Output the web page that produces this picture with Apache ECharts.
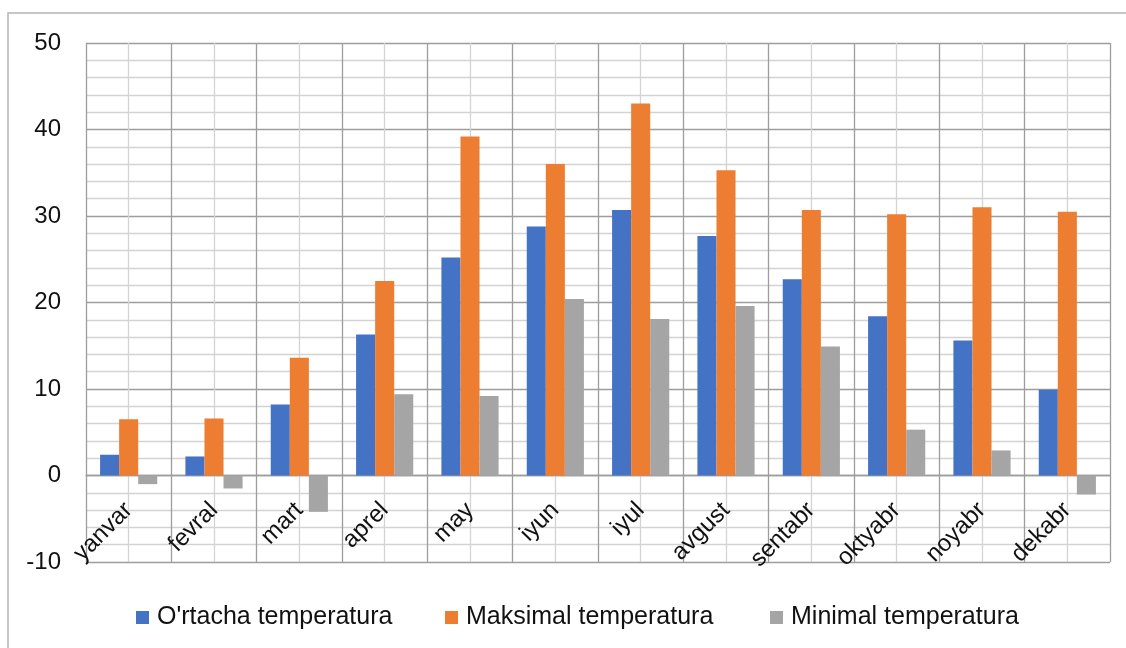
<!DOCTYPE html>
<html>
<head>
<meta charset="utf-8">
<script src="https://cdn.jsdelivr.net/npm/echarts@6/dist/echarts.min.js"></script>
<style>html,body{margin:0;padding:0;background:#fff;}#c{width:1126px;height:648px;}</style>
</head>
<body>
<div id="c"></div>
<script>
const months = ['yanvar','fevral','mart','aprel','may','iyun','iyul','avgust','sentabr','oktyabr','noyabr','dekabr'];
const seriesNames = ["O'rtacha temperatura", 'Maksimal temperatura', 'Minimal temperatura'];
const avgTemp = [2.4, 2.2, 8.2, 16.3, 25.2, 28.8, 30.7, 27.7, 22.7, 18.4, 15.6, 9.9];
const maxTemp = [6.5, 6.6, 13.6, 22.5, 39.2, 36.0, 43.0, 35.3, 30.7, 30.2, 31.0, 30.5];
const minTemp = [-1.0, -1.5, -4.2, 9.4, 9.2, 20.4, 18.1, 19.6, 14.9, 5.3, 2.9, -2.2];
const yMin = -10, yMax = 50, yStep = 10;

const FONT = 'Liberation Sans, Arial, sans-serif';
const chart = echarts.init(document.getElementById('c'), null, {renderer: 'canvas'});
const colors = ['#4472C4', '#ED7D31', '#A5A5A5'];
const major = '#9d9d9d', minor = '#d3d3d3';
const legendLefts = [136, 445, 770];

chart.setOption({
  animation: false,
  color: colors,
  textStyle: {fontFamily: FONT},
  graphic: [{
    type: 'rect', silent: true, z: -10,
    shape: {x: 8, y: 13, width: 1140, height: 660},
    style: {fill: 'none', stroke: '#b4b4b4', lineWidth: 1.5}
  }],
  grid: {left: 86, top: 43, right: 16, bottom: 86, containLabel: false, outerBoundsMode: 'none'},
  legend: seriesNames.map((n, i) => ({
    left: legendLefts[i], top: 605, padding: 0,
    itemWidth: 13, itemHeight: 13,
    icon: 'rect',
    textStyle: {fontSize: 25, color: '#111', fontFamily: FONT, padding: [0, 0, 0, 3]},
    data: [n]
  })),
  xAxis: [{
    type: 'category',
    data: months,
    position: 'bottom',
    offset: -86.5,
    axisLine: {show: true, onZero: false, lineStyle: {color: major, width: 1.3}},
    axisTick: {show: false},
    splitLine: {show: false},
    axisLabel: {rotate: 45, fontSize: 24, color: '#111', margin: 31, interval: 0, fontFamily: FONT}
  }, {
    type: 'value', min: 0, max: 12, interval: 1,
    position: 'top',
    axisLine: {show: false, onZero: false}, axisTick: {show: false}, axisLabel: {show: false},
    splitLine: {show: true, lineStyle: {color: major, width: 1.3}},
    minorTick: {show: false, splitNumber: 2},
    minorSplitLine: {show: true, lineStyle: {color: minor, width: 1.3}}
  }],
  yAxis: {
    type: 'value', min: yMin, max: yMax, interval: yStep,
    axisLine: {show: false, onZero: false}, axisTick: {show: false},
    axisLabel: {fontSize: 24, color: '#111', margin: 25, fontFamily: FONT},
    splitLine: {show: true, lineStyle: {color: major, width: 1.3}},
    minorTick: {show: false, splitNumber: 5},
    minorSplitLine: {show: true, lineStyle: {color: minor, width: 1.3}}
  },
  series: [
    {name: seriesNames[0], type: 'bar', data: avgTemp, barGap: '0%', barCategoryGap: '33%', z: 3},
    {name: seriesNames[1], type: 'bar', data: maxTemp, barGap: '0%', barCategoryGap: '33%', z: 3},
    {name: seriesNames[2], type: 'bar', data: minTemp, barGap: '0%', barCategoryGap: '33%', z: 3}
  ]
});
</script>
</body>
</html>
